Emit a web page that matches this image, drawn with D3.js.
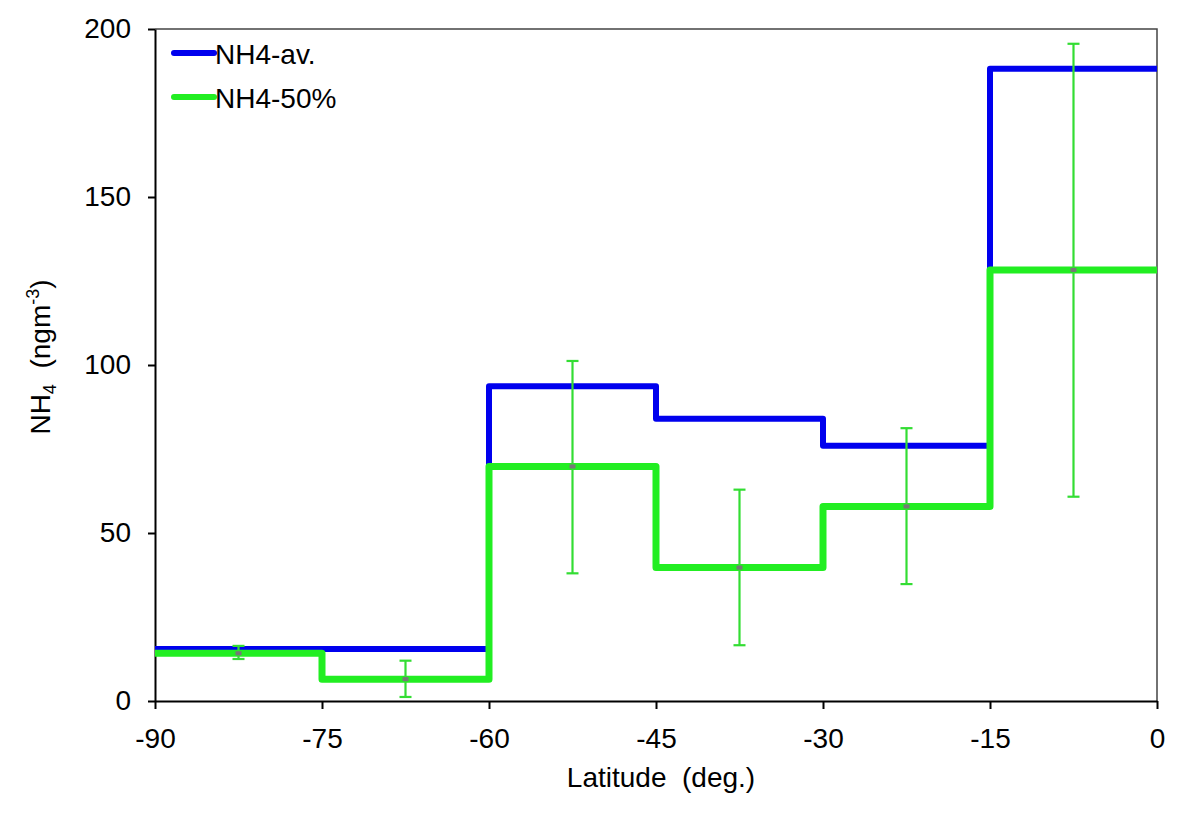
<!DOCTYPE html>
<html><head><meta charset="utf-8">
<script src="https://cdn.jsdelivr.net/npm/d3@7"></script>
<style>body{margin:0;background:#fff}svg text{font-family:"Liberation Sans",Arial,sans-serif;white-space:pre}</style>
</head><body><svg id="c" width="1200" height="814"></svg>
<script>
const binEdges = [-90, -75, -60, -45, -30, -15, 0];
const avValues = [15.5, 15.5, 93.7, 84.0, 76.0, 188.2];
const medValues = [14.2, 6.5, 69.8, 39.7, 57.9, 128.3];
const errMid = [-82.5, -67.5, -52.5, -37.5, -22.5, -7.5];
const errLow = [12.5, 1.2, 38.0, 16.6, 34.8, 60.8];
const errHigh = [16.4, 12.0, 101.2, 62.9, 81.2, 195.6];
const xTicks = [-90, -75, -60, -45, -30, -15, 0];
const yTicks = [0, 50, 100, 150, 200];
const seriesNames = ["NH4-av.", "NH4-50%"];

const FS = 28;
const svg = d3.select("#c");
const L = 155, R = 1157, T = 29, B = 701;
const x = d3.scaleLinear().domain([-90, 0]).range([L, R]);
const y = d3.scaleLinear().domain([0, 200]).range([B, T]);

// frame top/right
svg.append("path").attr("d", `M${L},${T}H${R}V${B}`).attr("fill","none").attr("stroke","#444").attr("stroke-width",1.5);

const xAxis = svg.append("g").attr("transform",`translate(0,${B})`)
  .call(d3.axisBottom(x).tickValues(xTicks).tickSize(8).tickSizeOuter(0).tickFormat(d3.format("d")));
const yAxis = svg.append("g").attr("transform",`translate(${L},0)`)
  .call(d3.axisLeft(y).tickValues(yTicks).tickSize(7).tickSizeOuter(0));
[xAxis, yAxis].forEach(g => {
  g.select(".domain").attr("stroke","#000").attr("stroke-width",2);
  g.selectAll(".tick line").attr("stroke","#000").attr("stroke-width",2);
  g.selectAll("text").attr("font-size",FS).attr("fill","#000").attr("font-family","Liberation Sans, Arial, sans-serif");
});
xAxis.selectAll("text").attr("y",47).attr("dy",0).text(d => d < 0 ? "-" + Math.abs(d) : d);
yAxis.selectAll("text").attr("x",-24);

function stepPts(vals){
  const p = vals.map((v,i)=>[binEdges[i], v]);
  p.push([binEdges[binEdges.length-1], vals[vals.length-1]]);
  return p;
}
const line = d3.line().x(d=>x(d[0])).y(d=>y(d[1])).curve(d3.curveStepAfter);
svg.append("path").attr("d", line(stepPts(avValues))).attr("fill","none").attr("stroke","#0000ee").attr("stroke-width",6).attr("stroke-linejoin","round");
svg.append("path").attr("d", line(stepPts(medValues))).attr("fill","none").attr("stroke","#22ee22").attr("stroke-width",7).attr("stroke-linejoin","round");

// error bars
const eb = svg.append("g").attr("stroke","#33dd33").attr("stroke-width",2.2);
errMid.forEach((m,i)=>{
  const cx = x(m);
  eb.append("line").attr("x1",cx).attr("x2",cx).attr("y1",y(errLow[i])).attr("y2",y(errHigh[i]));
  eb.append("line").attr("x1",cx-6).attr("x2",cx+6).attr("y1",y(errLow[i])).attr("y2",y(errLow[i]));
  eb.append("line").attr("x1",cx-6).attr("x2",cx+6).attr("y1",y(errHigh[i])).attr("y2",y(errHigh[i]));
});
svg.append("g").selectAll("rect").data(errMid).join("rect")
  .attr("x",d=>x(d)-3).attr("y",(d,i)=>y(medValues[i])-2).attr("width",6).attr("height",4).attr("fill","#777");

// legend
const legColors = ["#0000ee", "#22ee22"];
seriesNames.forEach((n,i)=>{
  const yy = 53 + i*44;
  svg.append("line").attr("x1",174).attr("x2",214).attr("y1",yy).attr("y2",yy).attr("stroke",legColors[i]).attr("stroke-width",6).attr("stroke-linecap","round");
  svg.append("text").attr("x",215).attr("y",yy+11).attr("font-size",FS).text(n);
});

// axis titles
svg.append("text").attr("x",661).attr("y",787).attr("text-anchor","middle").attr("font-size",FS).text("Latitude\u00a0\u00a0(deg.)");
const yt = svg.append("text").attr("transform","translate(50,357) rotate(-90)").attr("text-anchor","middle").attr("font-size",FS);
yt.append("tspan").text("NH");
yt.append("tspan").attr("font-size",18).attr("dy",6).text("4");
yt.append("tspan").attr("dy",-6).text("\u00a0\u00a0(ngm");
yt.append("tspan").attr("font-size",18).attr("dy",-11).text("-3");
yt.append("tspan").attr("dy",11).text(")");
</script></body></html>
